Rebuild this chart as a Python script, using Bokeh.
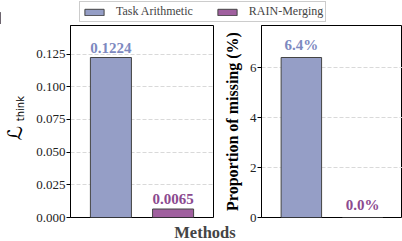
from bokeh.plotting import figure
from bokeh.models import (ColumnDataSource, FixedTicker, PrintfTickFormatter, Label,
                          Legend, LegendItem, Range1d, LinearAxis)
from bokeh.layouts import column, row
from bokeh.core.properties import value
from bokeh.embed import file_html
from bokeh.resources import INLINE

# ---- data ----
methods = ["Task Arithmetic", "RAIN-Merging"]
l_think = [0.1224, 0.0065]
l_think_labels = ["0.1224", "0.0065"]
missing_pct = [6.4, 0.0]
missing_labels = ["6.4%", "0.0%"]
left_ticks = [0.0, 0.025, 0.05, 0.075, 0.1, 0.125]
right_ticks = [0, 2, 4, 6]

fills = ["#959ec6", "#a0609f"]
text_cols = ["#7d89bf", "#8b4a8f"]
SERIF = "Liberation Serif"
xs = [0, 1]

def style_panel(p, ticks):
    p.xaxis.visible = False
    p.xgrid.visible = False
    p.ygrid.grid_line_color = "#d9d9d9"
    p.ygrid.grid_line_dash = "4 2"
    p.ygrid.ticker = FixedTicker(ticks=ticks)
    p.yaxis.ticker = FixedTicker(ticks=ticks)
    p.yaxis.minor_tick_line_color = None
    p.yaxis.major_tick_out = 4
    p.yaxis.major_tick_in = 0
    p.yaxis.major_label_text_font = SERIF
    p.yaxis.major_label_text_font_size = "13px"
    p.yaxis.major_label_text_color = "#222222"
    p.yaxis.major_label_standoff = 1
    p.outline_line_color = "black"
    p.outline_line_width = 1
    p.outline_line_alpha = 1
    p.background_fill_color = "white"
    p.border_fill_color = "white"

def label_axis(pos, text, size, standoff):
    # an axis that carries only one rotated text at a chosen height (y-axis title pieces)
    return LinearAxis(ticker=FixedTicker(ticks=[pos]), major_label_overrides={pos: text},
                      major_label_orientation="parallel", major_label_text_font="DejaVu Sans",
                      major_label_text_font_size=size, major_label_text_color="black",
                      major_label_standoff=standoff, axis_line_color=None,
                      major_tick_line_color=None, minor_tick_line_color=None,
                      major_tick_out=0, major_tick_in=0, minor_tick_out=0, minor_tick_in=0)

# ---- left panel ----
ymax1 = max(l_think) * 1.2
src1 = ColumnDataSource(dict(x=xs, top=l_think, lab=l_think_labels, fill=fills, tc=text_cols))
p1 = figure(width=220, height=199, output_backend="svg", toolbar_location=None,
            x_range=Range1d(-0.65, 1.65), y_range=Range1d(0, ymax1),
            min_border_left=67, min_border_right=7, min_border_top=1, min_border_bottom=6)
p1.vbar(x="x", top="top", width=0.66, source=src1, fill_color="fill",
        line_color="#444444", line_width=1)
p1.text(x="x", y="top", text="lab", source=src1, text_color="tc",
        text_font=value(SERIF), text_font_style="bold", text_font_size="15px",
        text_align="center", text_baseline="bottom", y_offset=-5)
style_panel(p1, left_ticks)
p1.yaxis.formatter = PrintfTickFormatter(format="%.3f")
p1.add_layout(label_axis(0.0833, "think", "10px", 7), "left")
p1.add_layout(label_axis(0.0647, "\u2112", "20px", -15), "left")

# ---- right panel ----
src2 = ColumnDataSource(dict(x=xs, top=missing_pct, lab=missing_labels, fill=fills, tc=text_cols))
p2 = figure(width=182, height=199, output_backend="svg", toolbar_location=None,
            x_range=Range1d(-0.65, 1.65), y_range=Range1d(0, max(missing_pct) * 1.2),
            min_border_left=38, min_border_right=0, min_border_top=1, min_border_bottom=6)
p2.vbar(x="x", top="top", width=0.66, source=src2, fill_color="fill",
        line_color="#444444", line_width=1)
p2.text(x="x", y="top", text="lab", source=src2, text_color="tc",
        text_font=value(SERIF), text_font_style="bold", text_font_size="15px",
        text_align="center", text_baseline="bottom", y_offset=-5)
style_panel(p2, right_ticks)
p2.yaxis.axis_label = "Proportion of missing (%)"
p2.yaxis.axis_label_text_font = SERIF
p2.yaxis.axis_label_text_font_style = "bold"
p2.yaxis.axis_label_text_font_size = "16px"
p2.yaxis.axis_label_text_color = "black"
p2.yaxis.axis_label_standoff = 6

# ---- legend strip ----
pl = figure(width=402, height=24, output_backend="svg", toolbar_location=None,
            x_range=Range1d(0, 1), y_range=Range1d(0, 1), min_border=0)
pl.xaxis.visible = False
pl.yaxis.visible = False
pl.grid.visible = False
pl.outline_line_color = None
items = []
for name, col in zip(methods, fills):
    rr = pl.vbar(x=[-10], top=[0.5], width=0.5, fill_color=col, line_color="#444444")
    items.append(LegendItem(label=name, renderers=[rr]))
leg = Legend(items=items, orientation="horizontal", location=(79, 2),
             label_text_font=SERIF, label_text_font_size="12px",
             glyph_width=24, glyph_height=8, label_standoff=10, spacing=22,
             padding=2, margin=0, label_height=12,
             border_line_color="#cccccc", border_line_width=1, border_line_alpha=1,
             background_fill_color="white", background_fill_alpha=1)
pl.add_layout(leg, "center")

# ---- bottom label strip ----
pb = figure(width=402, height=18, output_backend="svg", toolbar_location=None,
            x_range=Range1d(0, 402), y_range=Range1d(0, 18), min_border=0)
pb.xaxis.visible = False
pb.yaxis.visible = False
pb.grid.visible = False
pb.outline_line_color = None
pb.add_layout(Label(x=204.5, y=9.5, text="Methods", text_font=SERIF,
                    text_font_style="bold", text_font_size="16.5px",
                    text_align="center", text_baseline="middle"))

layout = column(pl, row(p1, p2), pb)
open("out.html", "w").write(file_html(layout, INLINE))
